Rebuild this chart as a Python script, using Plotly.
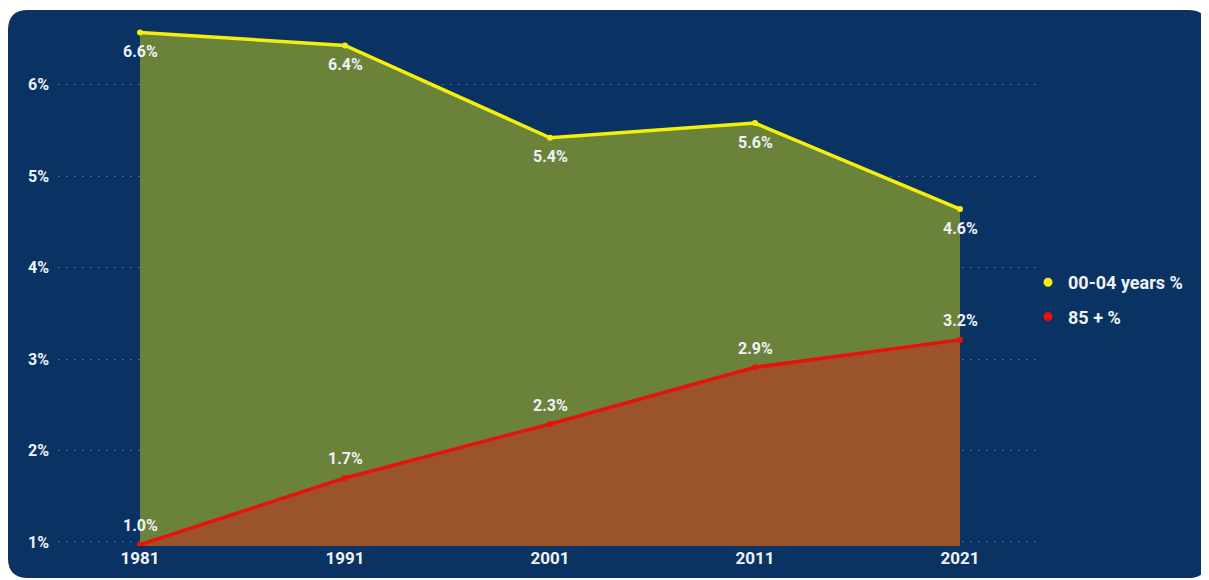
import plotly.graph_objects as go

years = [1981, 1991, 2001, 2011, 2021]
young = [6.57, 6.43, 5.42, 5.58, 4.64]
old = [0.97, 1.70, 2.29, 2.91, 3.21]
names = ['00-04 years %', '85 + %']
yticks = [1, 2, 3, 4, 5, 6]

navy = '#0a3262'
txt = '#eef2f6'
font = 'Roboto'

# page sits 8px in from the window edge, so everything is in figure pixels
W, H = 1201, 572
L, R, T, B = 50, 169, 20, 34
pw = W - L - R
ph = H - T - B
def px(x):
  return (x - L) / pw
def py(y):
  return (H - B - y) / ph

fig = go.Figure()
fig.add_trace(go.Scatter(x = years, y = old, mode = 'lines+markers', fill = 'tozeroy',
  fillcolor = 'rgba(171,88,36,0.9)', line = dict(color = '#e8120c', width = 3.5),
  marker = dict(size = 6), showlegend = False))
fig.add_trace(go.Scatter(x = years, y = young, mode = 'lines+markers', fill = 'tonexty',
  fillcolor = 'rgba(118,139,55,0.9)', line = dict(color = '#f5f00a', width = 3.5),
  marker = dict(size = 6), showlegend = False))
# legend entries
fig.add_trace(go.Scatter(x = [None], y = [None], mode = 'markers', name = names[0],
  legendgroup = 'a', marker = dict(color = '#f5f00a', size = 9)))
fig.add_trace(go.Scatter(x = [None], y = [None], mode = 'markers', name = names[1],
  legendgroup = 'b', marker = dict(color = '#e8120c', size = 9)))

# data labels
for x, v in zip(years, young):
  fig.add_annotation(x = x, y = v, text = f'{v:.1f}%', showarrow = False, yshift = -19,
    font = dict(size = 16, color = txt))
for x, v in zip(years, old):
  fig.add_annotation(x = x, y = v, text = f'{v:.1f}%', showarrow = False, yshift = 19,
    font = dict(size = 16, color = txt))

# rounded navy card
x0, x1, y0, y1, r = px(0), px(1200), py(2), py(570), 20
rx, ry = r / pw, r / ph
path = (f'M {x0 + rx} {y0} L {x1 - rx} {y0} Q {x1} {y0} {x1} {y0 - ry} '
        f'L {x1} {y1 + ry} Q {x1} {y1} {x1 - rx} {y1} L {x0 + rx} {y1} '
        f'Q {x0} {y1} {x0} {y1 + ry} L {x0} {y0 - ry} Q {x0} {y0} {x0 + rx} {y0} Z')
fig.add_shape(type = 'path', path = path, xref = 'paper', yref = 'paper',
  fillcolor = navy, line = dict(width = 0), layer = 'below')

fig.update_layout(width = W, height = H, margin = dict(l = L, r = R, t = T, b = B),
  paper_bgcolor = 'white', plot_bgcolor = 'rgba(0,0,0,0)',
  font = dict(family = font, color = txt, size = 16, weight = 'bold'),
  legend = dict(x = px(1020), y = py(256), xanchor = 'left', yanchor = 'top',
    traceorder = 'grouped', font = dict(size = 18, color = txt), itemwidth = 30,
    tracegroupgap = 8, bgcolor = 'rgba(0,0,0,0)'))
fig.update_xaxes(range = [1977.0, 2024.9], tickvals = years, showgrid = False, zeroline = False,
  showline = False, ticks = '', tickfont = dict(size = 17, color = txt))
fig.update_yaxes(range = [0.956, 6.62], tickvals = yticks, ticktext = [f'{t}%' for t in yticks],
  showgrid = True, gridcolor = 'rgba(120,145,180,0.55)', griddash = '2px,6px', gridwidth = 1,
  zeroline = False, showline = False, ticks = '', ticklabelstandoff = 8,
  tickfont = dict(size = 16, color = txt))
fig.write_html('out.html')
